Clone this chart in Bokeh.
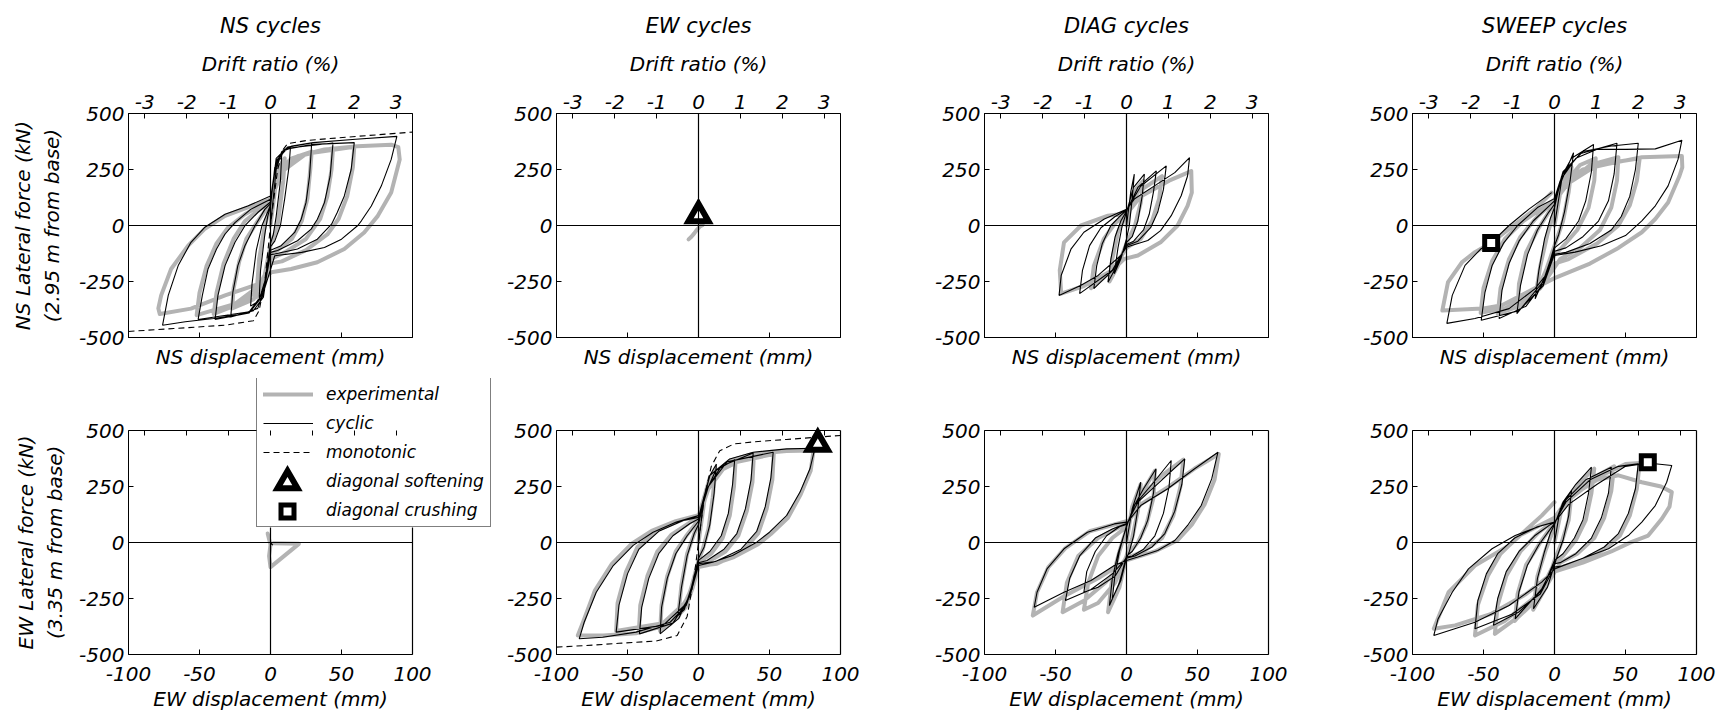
from bokeh.plotting import figure
from bokeh.models import Range1d, LinearAxis, Span, Legend, LegendItem, FixedTicker, Title, Label
from bokeh.layouts import row, column
from bokeh.embed import file_html
from bokeh.resources import INLINE

FONT = "DejaVu Sans"
GRAY = "#b3b3b3"

# ---------------- labels / ticks ----------------
col_titles = ["NS cycles", "EW cycles", "DIAG cycles", "SWEEP cycles"]
row_ylabels = [["NS Lateral force (kN)", "(2.95 m from base)"], ["EW Lateral force (kN)", "(3.35 m from base)"]]
row_xlabels = ["NS displacement (mm)", "EW displacement (mm)"]
force_ticks = [-500, -250, 0, 250, 500]
disp_ticks = [-100, -50, 0, 50, 100]
drift_ticks = [-3, -2, -1, 0, 1, 2, 3]
disp_lim = 100
force_lim = 500
mm_per_drift = 29.5  # 1 % drift of 2.95 m
legend_labels = ["experimental", "cyclic", "monotonic", "diagonal softening", "diagonal crushing"]

# ---------------- data (displacement mm, force kN) ----------------
# NS cycles - NS response
ns_ns_exp = [(0,0),(5,250),(10,300),(9,200),(5,0),(0,-90),(-5,-250),(-10,-320),(-8,-150),(-4,0),(0,90),
 (5,240),(15,300),(29,330),(28,250),(26,120),(22,20),(15,-60),(5,-110),(0,-130),(-5,-260),(-12,-330),(-27,-370),(-26,-280),(-22,-160),(-17,-60),(-10,10),(0,100),
 (6,230),(20,310),(44,345),(43,250),(40,130),(35,30),(25,-60),(10,-120),(0,-150),(-6,-260),(-18,-340),(-40,-395),(-38,-300),(-33,-170),(-26,-60),(-18,20),(-8,70),(0,110),
 (8,240),(25,320),(59,352),(58,260),(54,130),(48,30),(40,-40),(25,-110),(8,-160),(0,-170),(-8,-270),(-25,-350),(-52,-400),(-50,-300),(-45,-180),(-38,-80),(-30,-10),(-18,50),(0,115),
 (10,265),(19,309),(38,339),(61,354),(85,361),(90,350),(91,295),(85,147),(75.6,43),(66,-31),(52,-105),(33,-164),(14.5,-194),(0.5,-209),(-8,-260),(-32,-312),(-56,-371),(-78,-395),(-79,-370),(-77,-312),(-70,-194),(-58,-90),(-46.5,-16),(-32,43),(-13.6,87),(0,117)]
ns_ns_cyc = [(0,0),(4,250),(8,330),(7,200),(4,40),(2,-40),(0,-80),(-4,-250),(-8,-330),(-7,-200),(-4,-40),(-2,40),(0,85),
 (3,260),(8,330),(14,345),(13,260),(10,120),(7,0),(3,-70),(0,-95),(-4,-270),(-9,-340),(-14,-360),(-13,-260),(-10,-110),(-6,0),(-2,60),(0,92),
 (4,300),(12,350),(29,368),(27.5,220),(25,102),(21.6,28),(17,-31),(7.5,-90),(0,-110),(-5,-320),(-12,-380),(-28,-408),(-26.5,-297),(-23,-179),(-18,-90),(-11,-2),(-4,72),(0,98),
 (4,290),(12,345),(44,368),(42,220),(38,102),(33,28),(28.6,-16),(19,-68),(5,-112),(0,-120),(-5,-310),(-15,-390),(-39,-419),(-37,-312),(-32,-179),(-25,-75),(-18,-1),(-9,58),(0,105),
 (4,280),(10,340),(30,362),(59,370),(56.8,250),(52,132),(47,58),(43,6),(33,-61),(19,-105),(3,-127),(0,-130),(-5,-300),(-15,-385),(-51,-420),(-48,-312),(-44,-194),(-38,-105),(-32,-38),(-25,13),(-14,72),(0,117),
 (3,250),(8,330),(15,355),(30,370),(60,385),(89,398),(85,295),(78,176),(71,87),(64,21),(61.5,0),(50,-61),(38,-98),(22,-120),(3,-135),(-5,-300),(-9,-370),(-20,-395),(-40,-415),(-60,-430),(-76,-445),(-72,-312),(-65,-179),(-56,-75),(-46.5,-9),(-32,50),(-16,87),(0,132)]
ns_ns_mono = [(-100,-473),(-68,-460),(-32,-445),(-12,-425),(-8,-380),(-4,-250),(0,0),(5,250),(9,340),(12,365),(26,380),(61,398),(100,417)]

# EW cycles - NS response
ew_ns_exp = [(-7,-62),(-5,-50),(-3,-35),(-1,-18),(1,-5),(3,2)]
ew_ns_soft = [(0,45)]

# DIAG cycles - NS response
dg_ns_exp = [(0,0),(5,150),(12,200),(10,100),(6,0),(0,-80),(-6,-180),(-12,-250),(-10,-150),(-6,-30),(0,50),
 (8,150),(25,220),(23,120),(18,20),(10,-60),(0,-100),(-10,-200),(-25,-280),(-23,-180),(-16,-60),(-8,10),(0,50),
 (10,130),(30,200),(45.6,243),(46,147),(43,88),(36,0),(24,-75),(8,-134),(-1.5,-149),(-10,-200),(-30,-270),(-46,-304),(-47,-200),(-44,-75),(-32,0),(-13,44),(0,55)]
dg_ns_cyc = [(0,0),(3,150),(5.5,229),(4,120),(2,0),(0,-60),(-4,-150),(-8.6,-215),(-6,-100),(-3,0),(0,60),
 (5,170),(12.6,229),(11,130),(8,20),(4,-50),(0,-75),(-6,-170),(-13,-253),(-11,-150),(-8,-50),(-4,20),(0,65),
 (8,170),(21,244),(19,150),(16,50),(12,-20),(5,-70),(0,-85),(-8,-190),(-23,-282),(-21,-180),(-17,-80),(-11,0),(-4,45),(0,68),
 (10,175),(28,266),(26,160),(22,60),(17,-10),(8,-70),(0,-90),(-10,-200),(-33,-304),(-31,-200),(-26,-90),(-18,-10),(-8,40),(0,70),
 (5.5,118),(19.7,177),(34,236),(44.4,303),(43,221),(38.5,133),(31.5,44),(24,-23),(15,-67),(3,-90),(0,-97),(-4,-134),(-20,-223),(-32,-267),(-47.5,-312),(-46,-223),(-39,-104),(-30,-30),(-15.6,29),(0,73)]

# SWEEP cycles - NS response
sw_ns_exp = [(0,0),(5,180),(12,260),(10,150),(6,20),(0,-90),(-6,-200),(-13,-300),(-10,-180),(-5,-40),(0,70),
 (6,180),(18,270),(29,300),(28,200),(24,80),(16,-20),(5,-100),(0,-130),(-10,-260),(-26,-370),(-25,-260),(-20,-120),(-12,-20),(-4,60),(0,100),
 (8,180),(25,270),(45,305),(44,200),(40,80),(32,-20),(18,-100),(4,-150),(-10,-280),(-25,-360),(-40,-395),(-38,-280),(-32,-150),(-24,-50),(-12,40),(0,110),
 (10,190),(30,270),(60,300),(58,200),(53,90),(45,0),(30,-80),(10,-150),(0,-170),(-15,-300),(-35,-370),(-52,-390),(-50,-280),(-44,-160),(-35,-60),(-22,20),(-8,80),(0,115),
 (8,200),(20,250),(38,275),(61.5,305),(89.7,310),(90,260),(88,221),(80,103),(71,29),(61.5,-30),(45,-100),(25,-170),(0,-235),(-20,-300),(-37,-356),(-51,-371),(-79,-380),(-75,-253),(-65,-163),(-56,-119),(-44,-75),(-32,-15),(-13.6,73),(-2,147)]
sw_ns_cyc = [(0,0),(5,200),(13.4,325),(11,200),(7,60),(3,-40),(0,-90),(-5,-200),(-13.6,-327),(-11,-200),(-7,-60),(-3,30),(0,80),
 (5,220),(12,300),(27.5,362),(26,240),(22,110),(17,20),(8,-60),(0,-100),(-8,-250),(-26.5,-393),(-24,-270),(-19,-130),(-12,-20),(-4,60),(0,95),
 (6,230),(18,320),(44,367),(42,230),(38,110),(31,20),(20,-50),(8,-100),(0,-115),(-8,-260),(-20,-360),(-39,-415),(-37,-290),(-32,-170),(-25,-70),(-15,20),(-5,80),(0,110),
 (6,240),(20,330),(40,355),(59,367),(57,250),(53,130),(47,40),(40,-20),(25,-80),(8,-120),(0,-128),(-8,-270),(-25,-380),(-51.6,-423),(-49,-300),(-44,-180),(-36,-80),(-26,0),(-12,80),(0,120),
 (4,200),(15,300),(30,340),(50,340),(71,342),(89.7,381),(87,295),(80,177),(71,88),(61.5,21),(50,-45),(33,-90),(14.5,-119),(0,-134),(-3,-164),(-6,-220),(-13.6,-282),(-32,-371),(-56,-415),(-75.8,-437),(-72,-312),(-63,-178),(-52,-105),(-44.6,-78),(-32,0),(-18,73),(-2,147)]
sw_ns_crush = [(-44.6,-78)]

# NS cycles - EW response
ns_ew_exp = [(-2,40),(0,-10),(-1,-60),(0,-110),(20,-6),(2,-3)]
ns_ew_cyc = [(0,0),(1.6,-12),(0.5,-6)]

# EW cycles - EW response
ew_ew_exp = [(0,0),(4,180),(8,280),(12,330),(10,200),(7,60),(3,-30),(0,-80),(-5,-200),(-10,-290),(-14,-310),(-12,-190),(-8,-50),(-3,40),(0,80),
 (5,210),(12,310),(26,355),(25,250),(22,120),(17,20),(9,-50),(0,-90),(-6,-220),(-14,-330),(-27,-395),(-26,-280),(-22,-150),(-16,-40),(-8,35),(0,100),
 (6,230),(16,330),(39,390),(38,270),(34,140),(28,30),(19,-40),(6,-90),(0,-100),(-6,-230),(-18,-350),(-42,-400),(-41,-280),(-36,-150),(-29,-40),(-19,35),(-6,90),(0,110),
 (7,240),(20,350),(53,395),(52,280),(48,150),(42,40),(31,-40),(13,-95),(0,-105),(-8,-260),(-25,-360),(-58,-395),(-57,-270),(-51,-130),(-43,-20),(-29,55),(-10,105),(0,115),
 (8,290),(22,365),(38.5,395),(62,408),(81,411),(79,320),(72,215),(63,110),(51,38),(42,-8),(25,-65),(11,-95),(0,-110),(-4,-200),(-9,-290),(-20,-365),(-44,-405),(-67,-415),(-85,-415),(-81,-350),(-73,-215),(-61,-95),(-47,-5),(-33,52),(-16,95),(0,122)]
ew_ew_cyc = [(0,0),(4,200),(8,299),(12.6,350),(11,220),(8,80),(4,-20),(0,-70),(-5,-200),(-10,-300),(-14.5,-326),(-12,-200),(-8,-60),(-3,40),(0,80),
 (5,220),(12,320),(25.5,370),(24,260),(21,130),(16,30),(8,-40),(0,-80),(-6,-230),(-14,-340),(-27,-408),(-26,-290),(-22,-160),(-16,-50),(-8,30),(0,95),
 (6,240),(16,340),(38.5,400),(37,280),(33,150),(27,40),(18,-30),(6,-80),(0,-90),(-6,-240),(-18,-360),(-41.6,-408),(-40,-290),(-35,-160),(-28,-50),(-18,30),(-6,85),(0,105),
 (7,250),(20,360),(52.6,403),(51,290),(47,160),(41,50),(30,-30),(12,-85),(0,-95),(-8,-270),(-25,-370),(-58,-400),(-56,-280),(-50,-140),(-42,-30),(-28,50),(-10,100),(0,112),
 (7.9,299),(22,373),(38.5,403),(62,418),(82,421),(78.5,329),(71.5,225),(62,120),(50,46),(41,1.5),(24,-58),(10,-88),(0,-103),(-4,-192),(-8.6,-281),(-20,-356),(-44,-400),(-67.5,-423),(-84,-430),(-80.5,-356),(-72,-222),(-60,-103),(-46,-13),(-32,46),(-15.6,91),(0,120)]
ew_ew_mono = [(-100,-467),(-79,-460),(-56,-450),(-30,-440),(-15,-415),(-8,-330),(-3,-150),(0,0),(4,200),(9,340),(15,410),(25,440),(40,450),(62,460),(100,478)]
ew_ew_soft = [(84,440)]

# DIAG cycles - EW response
dg_ew_exp = [(0,0),(4,160),(10,260),(8,140),(4,20),(0,-60),(-5,-200),(-13,-311),(-10,-160),(-5,-40),(0,60),
 (6,170),(20,320),(19,200),(14,80),(8,0),(0,-60),(-8,-180),(-20,-270),(-30,-300),(-27,-180),(-20,-60),(-10,20),(0,70),
 (8,190),(25,300),(40,370),(38,250),(33,120),(25,20),(12,-40),(0,-70),(-15,-180),(-30,-260),(-45,-311),(-42,-180),(-34,-60),(-20,20),(0,85),
 (10,170),(30,250),(48,330),(65,395),(62,280),(55,170),(46,80),(36,10),(20,-40),(0,-80),(-20,-160),(-44,-240),(-66,-326),(-63,-222),(-55,-110),(-43,-25),(-26,50),(0,95)]
dg_ew_cyc = [(0,0),(4,150),(10,269),(8,150),(5,30),(2,-40),(0,-70),(-4,-170),(-10,-251),(-8,-140),(-5,-40),(-2,30),(0,70),
 (5,160),(12,240),(20.8,329),(19,220),(15,100),(10,20),(4,-40),(0,-60),(-5,-180),(-12,-281),(-10,-160),(-6,-50),(-2,30),(0,75),
 (6,170),(18,260),(31.5,366),(30,250),(26,130),(20,30),(12,-30),(4,-60),(0,-65),(-8,-150),(-20,-200),(-30,-222),(-28,-130),(-22,-40),(-14,30),(-5,70),(0,80),
 (8,180),(25,280),(41,373),(39,260),(34,140),(27,40),(18,-20),(6,-60),(0,-70),(-10,-140),(-25,-210),(-43,-259),(-40,-160),(-33,-60),(-22,20),(-10,60),(0,85),
 (10,165),(29,240),(48,329),(64.4,403),(60,284),(52.6,165),(43,76),(34,9),(22,-36),(8,-65),(0,-80),(-8.6,-103),(-25,-170),(-44,-222),(-65,-289),(-63,-222),(-56,-118),(-44,-28),(-27.5,46),(-8.6,83),(0,91)]

# SWEEP cycles - EW response
sw_ew_exp = [(0,0),(5,150),(12,220),(10,100),(5,0),(0,-80),(-6,-200),(-15,-300),(-12,-150),(-6,-30),(0,70),
 (6,170),(18,270),(28,330),(26,220),(22,100),(15,10),(6,-60),(0,-90),(-10,-220),(-28,-350),(-26,-230),(-20,-100),(-10,0),(0,90),
 (8,180),(25,280),(42,340),(40,230),(35,110),(28,20),(16,-50),(4,-90),(-10,-240),(-25,-330),(-42,-408),(-40,-280),(-34,-150),(-24,-40),(-12,40),(0,100),
 (10,190),(30,290),(50,350),(60,355),(58,240),(53,120),(46,30),(35,-30),(20,-80),(0,-120),(-15,-250),(-35,-350),(-56,-415),(-54,-280),(-47,-150),(-38,-50),(-25,30),(0,110),
 (10,200),(30,280),(45,300),(61.5,269),(75,250),(82.6,225),(81,160),(75.6,106),(66,31),(54,1.5),(40,-40),(20,-90),(0,-130),(-20,-230),(-45,-320),(-70,-370),(-85,-385),(-74.6,-222),(-56,-103),(-32,-13),(-9,120),(0,180)]
sw_ew_cyc = [(0,0),(4,150),(12,232),(10,120),(6,10),(2,-60),(0,-100),(-5,-200),(-14.8,-296),(-12,-160),(-7,-40),(-3,40),(0,80),
 (6,180),(15,260),(26,336),(24,220),(20,100),(14,20),(6,-50),(0,-80),(-8,-200),(-27.7,-341),(-25,-220),(-19,-100),(-11,-10),(-3,60),(0,85),
 (8,190),(22,280),(40,336),(38,220),(33,110),(26,20),(15,-50),(4,-90),(0,-95),(-10,-220),(-25,-310),(-43,-370),(-40,-250),(-34,-130),(-25,-40),(-14,30),(-3,80),(0,88),
 (8,180),(25,280),(45,340),(59,351),(57,240),(52,130),(45,40),(35,-20),(20,-70),(5,-105),(0,-110),(-10,-230),(-30,-320),(-56,-385),(-54,-260),(-48,-140),(-40,-50),(-28,20),(-12,70),(0,90),
 (10,170),(30,260),(50,340),(65.7,355),(82.6,344),(79,269),(71,165),(61.5,91),(52,31),(38,-28),(19,-73),(0.5,-117),(-9,-177),(-32,-281),(-56,-356),(-85,-415),(-82,-341),(-72,-222),(-60.6,-118),(-44,-28),(-27.7,31),(-9,76),(0,91)]
sw_ew_crush = [(65.7,358)]

panels = [
    [dict(exp=ns_ns_exp, cyc=ns_ns_cyc, mono=ns_ns_mono),
     dict(exp=ew_ns_exp, soft=ew_ns_soft),
     dict(exp=dg_ns_exp, cyc=dg_ns_cyc),
     dict(exp=sw_ns_exp, cyc=sw_ns_cyc, crush=sw_ns_crush)],
    [dict(exp=ns_ew_exp, cyc=ns_ew_cyc),
     dict(exp=ew_ew_exp, cyc=ew_ew_cyc, mono=ew_ew_mono, soft=ew_ew_soft),
     dict(exp=dg_ew_exp, cyc=dg_ew_cyc),
     dict(exp=sw_ew_exp, cyc=sw_ew_cyc, crush=sw_ew_crush)],
]

# ---------------- layout constants (px) ----------------
H = [376, 339]
FW = 284                                  # box width
BOX_H = 224                               # box height of a lower panel
FS = "20px"
# upper row: ordinary frames = boxes
TOP_W = [428, 428, 428, 446]
TOP_BT, TOP_BB = 112, 39
BOX_LEFT = [128, 128, 128, 128]           # box left inside each upper figure
# lower row: frames larger than the boxes (room for legend, tick labels, titles)
BOT_EDGES = [0, 503, 865, 1293, 1730]     # figure edges across the page
BOX_ABS = [128, 556, 984, 1412]           # box left edges across the page
FRAME_RIGHT_ABS = [503, 865, 1293, 1721]
EXT_L = 50                                # frame reaches this far left of the box
BOT_BT = 2
GAP_BELOW = 61                            # box bottom to frame bottom
LEG_X, LEG_Y = 128, 127                   # legend offset from the lower-left box corner
LEG_PAD, LEG_ROW, LEG_GAP, LEG_GW = 6, 20, 9, 50
YLAB_W = [214, 193]                       # estimated text lengths used to centre the y title
XLAB_Y = 17                               # x-title height above the frame bottom


def xs(pts):
    return [p[0] for p in pts]


def ys(pts):
    return [p[1] for p in pts]


def px2x(px):
    return -disp_lim + px * 2 * disp_lim / FW


def px2y(py):
    return -force_lim + py * 2 * force_lim / BOX_H


def style_axis(ax, show_labels=True):
    ax.axis_line_color = "black"
    ax.axis_line_width = 1
    ax.major_tick_in = 5
    ax.major_tick_out = 0
    ax.major_tick_line_color = "black"
    ax.minor_tick_line_color = None
    ax.major_label_text_font = FONT
    ax.major_label_text_font_style = "italic"
    if show_labels:
        ax.major_label_text_font_size = FS
        ax.major_label_text_color = "black"
    else:
        ax.major_label_text_font_size = "1px"
        ax.major_label_text_color = None
    ax.axis_label_text_font = FONT
    ax.axis_label_text_font_style = "italic"
    ax.axis_label_text_font_size = FS
    ax.axis_label_text_color = "black"


def label_title(text, align, offset, standoff):
    return Title(text=text, align=align, offset=offset, standoff=standoff, text_font=FONT,
                 text_font_style="italic", text_font_size=FS, text_color="black")


def soft_marker(p, pts, **kw):
    return p.scatter(xs(pts), ys(pts), marker="triangle", size=20, fill_color="white",
                     line_color="black", line_width=6, line_join="miter", **kw)


def crush_marker(p, pts, **kw):
    return p.scatter(xs(pts), ys(pts), marker="square", size=13, fill_color="white",
                     line_color="black", line_width=5, line_join="miter", **kw)


figs = []
for r in range(2):
    row_figs = []
    for c in range(4):
        lower = (r == 1)
        legend_panel = (r == 1 and c == 0)
        if not lower:
            w = TOP_W[c]
            bl = BOX_LEFT[c]
            fw = FW
            x_start, x_end = -disp_lim, disp_lim
            y_start, y_end = -force_lim, force_lim
            bt, bb = TOP_BT, TOP_BB
        else:
            w = BOT_EDGES[c + 1] - BOT_EDGES[c]
            frame_left = BOX_ABS[c] - EXT_L
            bl = frame_left - BOT_EDGES[c]
            fw = FRAME_RIGHT_ABS[c] - frame_left
            x_start, x_end = px2x(-EXT_L), px2x(fw - EXT_L)
            frame_h = H[r] - BOT_BT
            y_start, y_end = px2y(-GAP_BELOW), px2y(frame_h - GAP_BELOW)
            bt, bb = BOT_BT, 0
        p = figure(width=w, height=H[r], x_range=Range1d(x_start, x_end),
                   y_range=Range1d(y_start, y_end),
                   title=(col_titles[c] if r == 0 else None),
                   output_backend="svg", toolbar_location=None,
                   x_axis_location=None, y_axis_location=None,
                   min_border_left=bl, min_border_right=w - bl - fw,
                   min_border_top=bt, min_border_bottom=bb)
        p.grid.visible = False
        p.outline_line_color = None if lower else "black"
        p.background_fill_color = "white"
        p.border_fill_color = "white"
        p.extra_x_ranges = {"drift": Range1d(x_start / mm_per_drift, x_end / mm_per_drift)}

        # left axis
        la = LinearAxis(ticker=FixedTicker(ticks=force_ticks),
                        major_label_overrides={t: str(t) for t in force_ticks},
                        bounds=(-force_lim, force_lim))
        style_axis(la)
        la.major_label_standoff = 4
        if lower:
            la.fixed_location = -disp_lim
        elif c == 0:
            la.axis_label = "\n".join(row_ylabels[r])
            la.axis_label_standoff = 12
        p.add_layout(la, "left")
        if legend_panel:
            centre = GAP_BELOW + BOX_H / 2
            p.add_layout(label_title(row_ylabels[r][1], "left", centre - YLAB_W[1] / 2, 23), "left")
            p.add_layout(label_title(row_ylabels[r][0], "left", centre - YLAB_W[0] / 2, -17), "left")

        # bottom axis
        ba = LinearAxis(ticker=FixedTicker(ticks=disp_ticks),
                        major_label_overrides={t: str(t) for t in disp_ticks},
                        bounds=(-disp_lim, disp_lim))
        style_axis(ba, show_labels=lower)
        if lower:
            ba.fixed_location = -force_lim
            ba.major_label_standoff = 12
        else:
            ba.axis_label = row_xlabels[r]
            ba.major_label_standoff = 0
            ba.axis_label_standoff = 7
        p.add_layout(ba, "below")
        if lower:
            p.add_layout(Label(x=0, y=XLAB_Y, x_units="data", y_units="screen", text=row_xlabels[r],
                               text_align="center", text_baseline="middle", text_font=FONT,
                               text_font_style="italic", text_font_size=FS, text_color="black"))

        # top drift axis
        ta = LinearAxis(x_range_name="drift", ticker=FixedTicker(ticks=drift_ticks),
                        major_label_overrides={t: str(t) for t in drift_ticks})
        style_axis(ta, show_labels=not lower)
        if not lower:
            ta.axis_label = "Drift ratio (%)"
            ta.major_label_standoff = 5
            ta.axis_label_standoff = 16
        else:
            ta.major_label_standoff = 0
            ta.fixed_location = force_lim
            right = px2x(LEG_X) if legend_panel else disp_lim
            ta.bounds = (-disp_lim / mm_per_drift, right / mm_per_drift)
        p.add_layout(ta, "above")

        if r == 0:
            p.title.align = "center"
            p.title.text_font = FONT
            p.title.text_font_style = "italic"
            p.title.text_font_size = "21px"
            p.title.text_color = "black"
            p.title.standoff = 22

        d = panels[r][c]
        rend = {}
        rend["exp"] = p.line(xs(d["exp"]), ys(d["exp"]), line_color=GRAY, line_width=4,
                             line_join="round", line_cap="round")
        if "cyc" in d:
            rend["cyc"] = p.line(xs(d["cyc"]), ys(d["cyc"]), line_color="black", line_width=1.1)
        if "mono" in d:
            rend["mono"] = p.line(xs(d["mono"]), ys(d["mono"]), line_color="black", line_width=1.1,
                                  line_dash="6 4")
        if lower:
            # zero lines and right edge of the box, limited to the box
            p.segment(x0=[-disp_lim, 0, disp_lim], y0=[0, -force_lim, -force_lim],
                      x1=[disp_lim, 0, disp_lim], y1=[0, force_lim, force_lim],
                      line_color="black", line_width=1.2)
        else:
            p.add_layout(Span(location=0, dimension="width", line_color="black", line_width=1.2))
            p.add_layout(Span(location=0, dimension="height", line_color="black", line_width=1.2))
        if "soft" in d:
            soft_marker(p, d["soft"])
        if "crush" in d:
            crush_marker(p, d["crush"])
        p._rend = rend
        p._x_end, p._y_end = x_end, y_end
        row_figs.append(p)
    figs.append(row_figs)

# ---------------- legend in the lower-left panel ----------------
pl = figs[1][0]
n_items = len(legend_labels)
leg_h = 2 * LEG_PAD + n_items * LEG_ROW + (n_items - 1) * LEG_GAP

# white backing for the legend box (hides lines under it), drawn above the data
pl.quad(left=[px2x(LEG_X)], right=[pl._x_end], bottom=[px2y(LEG_Y)], top=[pl._y_end],
        fill_color="white", line_color=None, level="guide")

mono_dummy = pl.line(xs(ns_ew_cyc[:1]), ys(ns_ew_cyc[:1]), line_color="black", line_width=1.1,
                     line_dash="6 4")
soft_dummy = pl.scatter([], [], marker="triangle", fill_alpha=0, line_alpha=0)
crush_dummy = pl.scatter([], [], marker="square", fill_alpha=0, line_alpha=0)
items = [LegendItem(label=legend_labels[0], renderers=[pl._rend["exp"]]),
         LegendItem(label=legend_labels[1], renderers=[pl._rend["cyc"]]),
         LegendItem(label=legend_labels[2], renderers=[mono_dummy]),
         LegendItem(label=legend_labels[3], renderers=[soft_dummy]),
         LegendItem(label=legend_labels[4], renderers=[crush_dummy])]
leg = Legend(items=items, location=(LEG_X + EXT_L, LEG_Y + GAP_BELOW), orientation="vertical",
             label_text_font=FONT, label_text_font_style="italic", label_text_font_size="17px",
             label_text_color="black", glyph_width=LEG_GW, glyph_height=LEG_ROW,
             label_height=LEG_ROW, label_standoff=13, spacing=LEG_GAP, padding=LEG_PAD, margin=0,
             border_line_color="black", border_line_width=1, background_fill_alpha=0)
pl.add_layout(leg, "center")

sample_x = px2x(LEG_X + LEG_PAD + LEG_GW / 2)
soft_y = px2y(LEG_Y + leg_h - (LEG_PAD + 3 * (LEG_ROW + LEG_GAP) + LEG_ROW / 2))
crush_y = px2y(LEG_Y + leg_h - (LEG_PAD + 4 * (LEG_ROW + LEG_GAP) + LEG_ROW / 2))
soft_marker(pl, [(sample_x, soft_y)], level="guide")
crush_marker(pl, [(sample_x, crush_y)], level="guide")

layout = column(row(*figs[0]), row(*figs[1]))
open("out.html", "w").write(file_html(layout, INLINE))
